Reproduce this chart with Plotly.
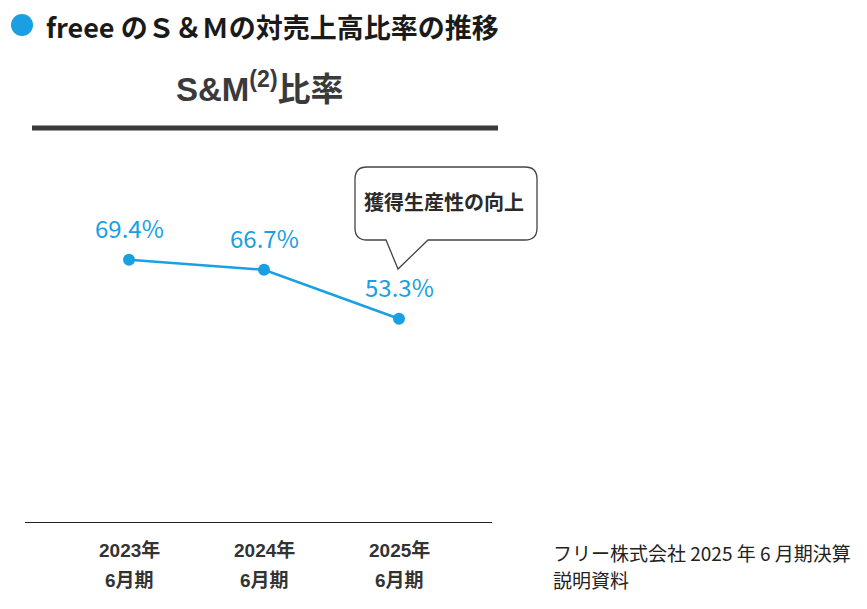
import plotly.graph_objects as go

# ---- data ----
years = ["2023年", "2024年", "2025年"]
periods = ["6月期", "6月期", "6月期"]
sm_ratio = [69.4, 66.7, 53.3]

title_text = "freee のＳ＆Ｍの対売上高比率の推移"
subtitle_text = "S&M<sup>(2)</sup>比率"
callout_text = "獲得生産性の向上"
source_lines = ["フリー株式会社 2025 年 6 月期決算", "説明資料"]

BLUE = "#18a0e3"
DARK = "#333333"
CJK = "Noto Sans CJK JP"
ARIAL = "Liberation Sans, " + CJK

W, H = 867, 609
X0, X1, Y0, Y1 = 25, 492, 150, 522  # plot area in pixels


def px(p):
    return (p - X0) / (X1 - X0)


def py(p):
    return (Y1 - p) / (Y1 - Y0)


idx = list(range(len(sm_ratio)))

fig = go.Figure()
fig.add_trace(go.Scatter(
    x=idx, y=sm_ratio, mode="lines+markers",
    line=dict(color=BLUE, width=2.5),
    marker=dict(color=BLUE, size=12),
    hoverinfo="skip", showlegend=False,
))

ann = []
for i, v in enumerate(sm_ratio):
    ann.append(dict(x=i, y=v, xref="x", yref="y", yshift=32, text=f"{v:.1f}%",
                    showarrow=False, font=dict(family=CJK, size=24, color=BLUE),
                    xanchor="center", yanchor="middle"))
for i, (yr, pr) in enumerate(zip(years, periods)):
    ann.append(dict(x=i, y=py(550), xref="x", yref="paper", text=yr, showarrow=False,
                    font=dict(family=ARIAL, size=19, color=DARK, weight=700),
                    xanchor="center", yanchor="middle"))
    ann.append(dict(x=i, y=py(580), xref="x", yref="paper", text=pr, showarrow=False,
                    font=dict(family=ARIAL, size=19, color=DARK, weight=700),
                    xanchor="center", yanchor="middle"))

# title
ann.append(dict(x=px(44), y=py(26), xref="paper", yref="paper", text=title_text,
                showarrow=False, font=dict(family=CJK, size=27, color="#1a1a1a", weight=700),
                xanchor="left", yanchor="middle"))
# subtitle
ann.append(dict(x=px(260), y=py(87), xref="paper", yref="paper", text=subtitle_text,
                showarrow=False,
                font=dict(family=ARIAL, size=33, color="#3a3a3a", weight=700),
                xanchor="center", yanchor="middle"))
# callout text
ann.append(dict(x=px(444), y=py(201), xref="paper", yref="paper", text=callout_text,
                showarrow=False, font=dict(family=CJK, size=20, color="#2a2a2a", weight=700),
                xanchor="center", yanchor="middle"))
# source
for k, line in enumerate(source_lines):
    ann.append(dict(x=px(551), y=py(552 + 27 * k), xref="paper", yref="paper", text=line,
                    showarrow=False, font=dict(family=CJK, size=19, color="#222222"),
                    xanchor="left", yanchor="middle"))

# callout bubble path
L, R, T, B, r = 355, 537, 167, 240, 12
pts = [("M", L + r, T), ("L", R - r, T), ("Q", R, T, R, T + r), ("L", R, B - r),
       ("Q", R, B, R - r, B), ("L", 428, B), ("L", 398, 269), ("L", 386, B),
       ("L", L + r, B), ("Q", L, B, L, B - r), ("L", L, T + r), ("Q", L, T, L + r, T)]
path = ""
for p in pts:
    cmd = p[0]
    coords = p[1:]
    segs = []
    for j in range(0, len(coords), 2):
        segs.append(f"{px(coords[j]):.5f},{py(coords[j + 1]):.5f}")
    path += cmd + " " + " ".join(segs) + " "
path += "Z"

shapes = [
    dict(type="circle", xref="paper", yref="paper", x0=px(11), x1=px(33), y0=py(36), y1=py(14),
         fillcolor=BLUE, line=dict(width=0)),
    dict(type="line", xref="paper", yref="paper", x0=px(32), x1=px(498), y0=py(128), y1=py(128),
         line=dict(color="#3a3a3a", width=5)),
    dict(type="path", xref="paper", yref="paper", path=path, fillcolor="white",
         line=dict(color="#444444", width=1.3)),
]

fig.update_layout(
    width=W, height=H,
    margin=dict(l=X0, r=W - X1, t=Y0, b=H - Y1, pad=0),
    paper_bgcolor="white", plot_bgcolor="white",
    xaxis=dict(range=[-104 / 135, 2 + 93 / 135], showgrid=False, zeroline=False,
               showticklabels=False, ticks="", showline=True, linecolor="#222222", linewidth=1.2,
               fixedrange=True),
    yaxis=dict(range=[-2.2, 99.4], visible=False, fixedrange=True),
    annotations=ann, shapes=shapes,
)

fig.write_html("out.html")
